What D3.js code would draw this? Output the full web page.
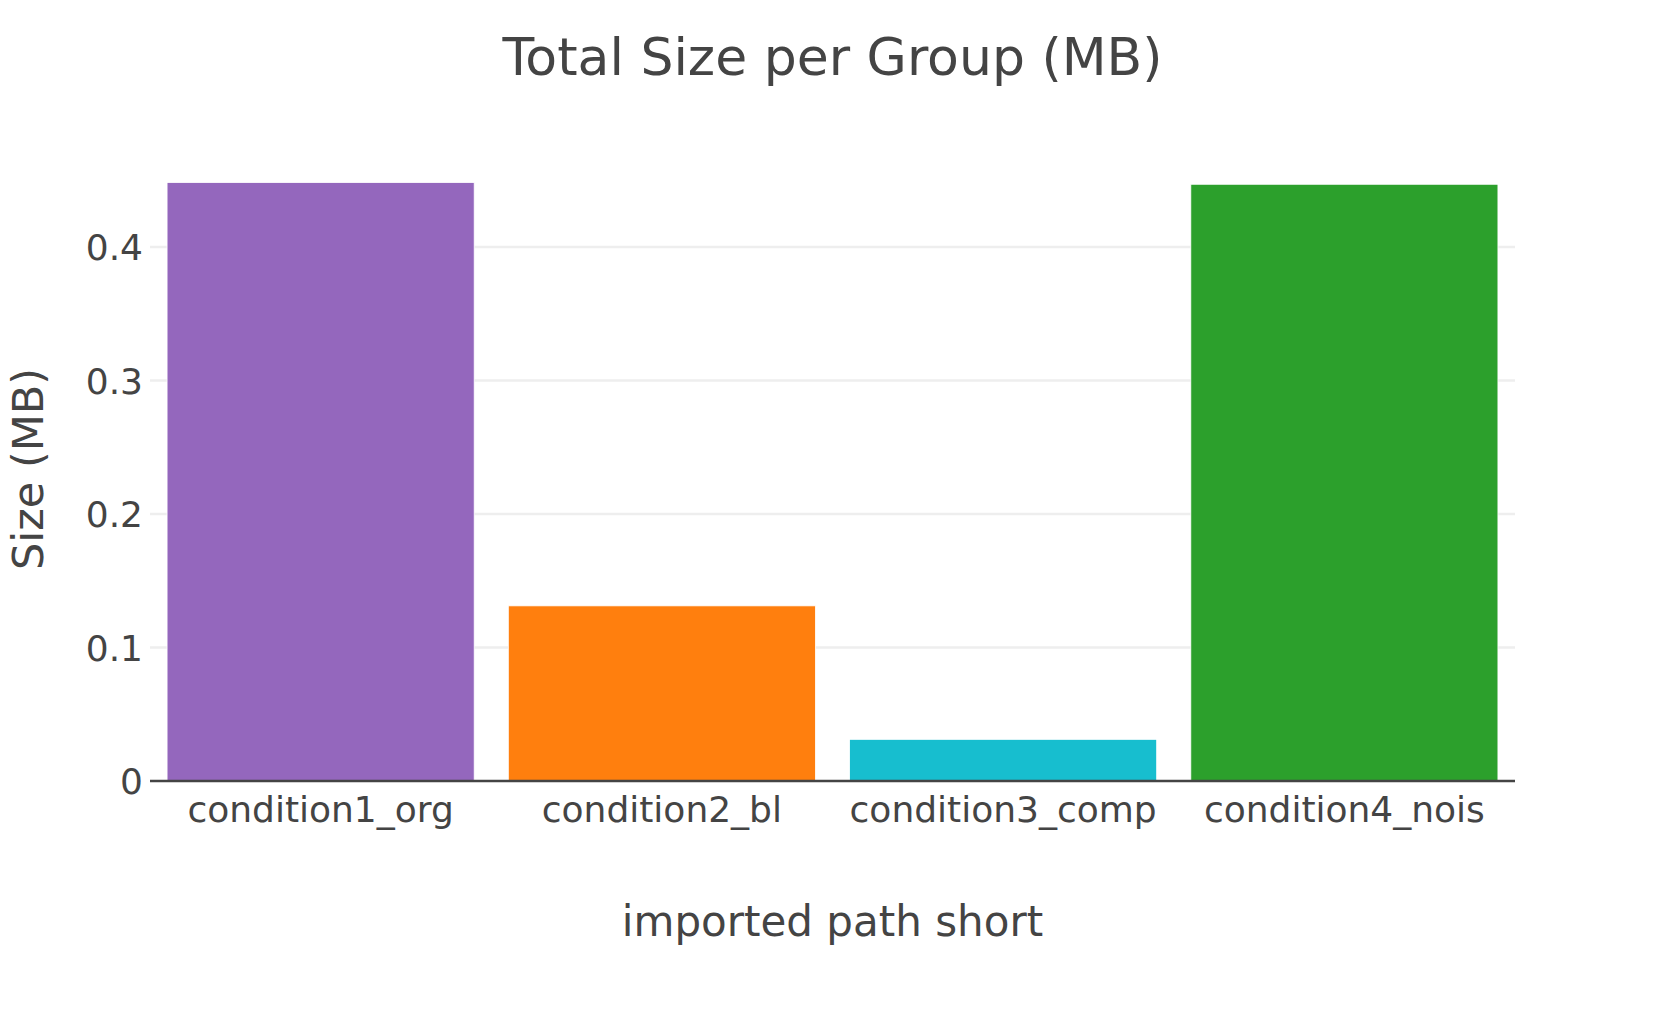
<!DOCTYPE html>
<html>
<head>
<meta charset="utf-8">
<title>Total Size per Group (MB)</title>
<script src="https://cdn.jsdelivr.net/npm/d3@7"></script>
<style>
	body { margin: 0; background: #fff; }
	svg text { font-family: "DejaVu Sans", Verdana, sans-serif; fill: #444; }
</style>
</head>
<body>
<div id="chart"></div>
<script>
// data
var groups = ["condition1_org", "condition2_bl", "condition3_comp", "condition4_nois"];
var sizes = [0.4483, 0.1312, 0.0312, 0.4470];
var barColors = ["#9467bd", "#ff7f0e", "#17becf", "#2ca02c"];
var yTicks = [0, 0.1, 0.2, 0.3, 0.4];
var yTickLabels = ["0", "0.1", "0.2", "0.3", "0.4"];

var W = 1665, H = 1020;
var plotL = 150, plotR = 1515, plotT = 151, plotB = 781;

var svg = d3.select("#chart").append("svg")
	.attr("width", W)
	.attr("height", H);

var x = d3.scaleBand()
	.domain(groups)
	.range([plotL, plotR])
	.paddingInner(0.1)
	.paddingOuter(0.05);

var y = d3.scaleLinear()
	.domain([0, d3.max(sizes) * 1.0527])
	.range([plotB, plotT]);

// gridlines
svg.append("g")
	.attr("class", "grid")
	.selectAll("line").data(yTicks.filter(function(d) { return d > 0; }))
	.enter().append("line")
	.attr("x1", plotL)
	.attr("x2", plotR)
	.attr("y1", function(d) { return y(d); })
	.attr("y2", function(d) { return y(d); })
	.attr("stroke", "#eeeeee")
	.attr("stroke-width", 2.7);

// bars
svg.append("g").selectAll("rect").data(sizes)
	.enter().append("rect")
	.attr("x", function(d, i) { return x(groups[i]); })
	.attr("y", function(d) { return y(d); })
	.attr("width", x.bandwidth())
	.attr("height", function(d) { return y(0) - y(d); })
	.attr("fill", function(d, i) { return barColors[i]; })
	.attr("stroke", "#ffffff")
	.attr("stroke-width", 0.8);

// zero line
svg.append("line")
	.attr("x1", plotL)
	.attr("x2", plotR)
	.attr("y1", y(0))
	.attr("y2", y(0))
	.attr("stroke", "#444444")
	.attr("stroke-width", 2.5);

// y axis labels
var yAxis = d3.axisLeft(y)
	.tickValues(yTicks)
	.tickSize(0)
	.tickPadding(6)
	.tickFormat(function(d, i) { return yTickLabels[i]; });

var gy = svg.append("g")
	.attr("transform", "translate(" + plotL + ",0)")
	.call(yAxis);
gy.select(".domain").remove();
gy.selectAll("text")
	.attr("x", -7)
	.attr("dy", "0.36em")
	.style("font-size", "36px")
	.attr("fill", "#444");

// x axis labels
var xAxis = d3.axisBottom(x).tickSize(0).tickPadding(0);
var gx = svg.append("g")
	.attr("transform", "translate(0," + plotB + ")")
	.call(xAxis);
gx.select(".domain").remove();
gx.selectAll("text")
	.attr("y", 0)
	.attr("dy", 0)
	.attr("transform", "translate(0,41)")
	.style("font-size", "36px")
	.attr("fill", "#444");

// titles
svg.append("text")
	.text("Total Size per Group (MB)")
	.attr("x", W / 2)
	.attr("y", 75)
	.attr("text-anchor", "middle")
	.style("font-size", "52px");

svg.append("text")
	.text("imported path short")
	.attr("x", (plotL + plotR) / 2)
	.attr("y", 936)
	.attr("text-anchor", "middle")
	.style("font-size", "42px");

svg.append("text")
	.text("Size (MB)")
	.attr("transform", "translate(43," + ((plotT + plotB) / 2 + 3) + ") rotate(-90)")
	.attr("text-anchor", "middle")
	.style("font-size", "43px");
</script>
</body>
</html>
